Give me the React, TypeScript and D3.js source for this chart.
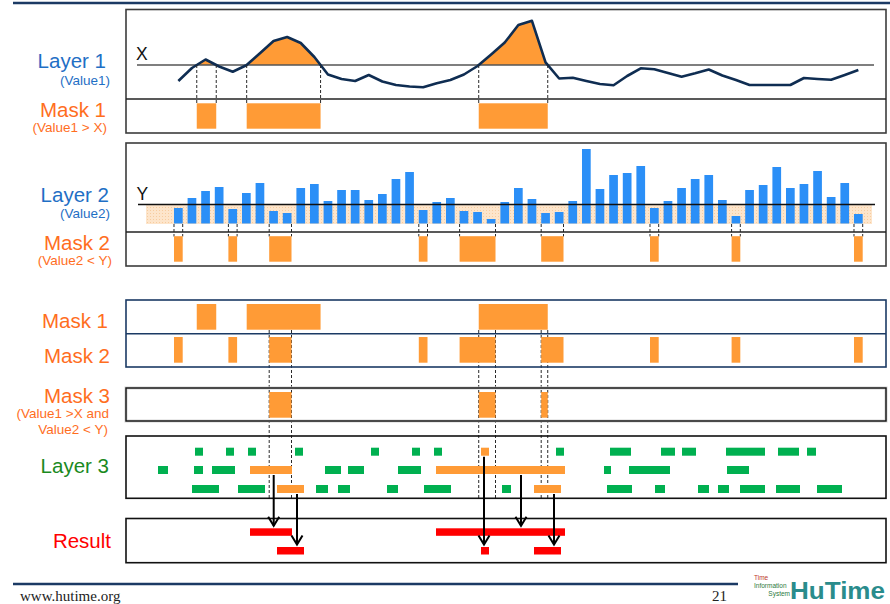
import * as d3 from 'd3';
import React from 'react';

// Layer 1 (line) and Layer 2 (bars) share the same 51 samples
const sampleIndex = d3.range(51);
const value1 = [
  18, 31, 39.5, 32.5, 27.3, 33.7, 45.8, 58, 62, 56, 42, 24.5, 20, 18, 24, 17.5, 14,
  12.5, 11.7, 15.8, 19, 24.5, 33, 44.5, 56.5, 74, 78.2, 36.6, 20.5, 21.3, 18, 15, 13.7,
  23, 30.7, 29.7, 26, 22.3, 25.7, 29.5, 23.5, 19, 14, 14, 14, 14, 21, 20, 19.3, 24, 29,
];
const value2 = [
  15.5, 25.5, 32.5, 36.5, 14.5, 30.5, 40.5, 12.5, 10.5, 35.5,
  39.5, 22.5, 33.5, 33.5, 23.5, 29.5, 44.5, 51.5, 13.5, 21.5,
  25.5, 12.5, 11.5, 4.5, 21.5, 35.5, 24.5, 10.5, 11.5, 22.5,
  74.5, 34.5, 48.5, 50.5, 57.5, 15.5, 22.5, 35.5, 44.5, 48.5,
  23.5, 7.5, 33.5, 38.5, 56.5, 35.5, 39.5, 52.5, 26.5, 40.5,
  9.5,
];
const thresholdX = 34;
const thresholdY = 19;

// Layer 3 events: [start, end] on the time axis, three rows
const layer3Row1: [number, number][] = [
  [69, 77], [100, 108], [122, 130], [169, 177], [245, 253], [286, 294], [308, 316], [355, 363],
  [430, 438], [484, 505], [535, 549], [556, 570], [600, 639], [652, 673], [681, 690],
];
const layer3Row2: [number, number][] = [
  [32, 42], [68, 77], [86, 109], [124, 166], [199, 215], [222, 238], [272, 295], [310, 439],
  [478, 485], [503, 544], [601, 623],
];
const layer3Row3: [number, number][] = [
  [66, 93], [112, 139], [151, 178], [190, 202], [212, 224], [261, 272], [298, 325], [376, 385],
  [408, 435], [481, 506], [529, 539], [572, 583], [592, 603], [614, 639], [650, 674], [691, 716],
];
// where the arrow leaves each selected event (sorted by start)
const resultArrowTimes = [147.7, 171, 395, 358, 428];

const timeDomain: [number, number] = [0, 760];

const C = {
  navy: '#1b3a64',
  frame: '#3c3c3c',
  orange: '#ff9b36',
  orangeText: '#ff6e1e',
  blueText: '#1f6fc5',
  bar: '#2b8ff7',
  green: '#00b050',
  greenText: '#1a8a1e',
  red: '#ff0000',
  line: '#0f2d52',
};
const FONT = '"Liberation Sans", Arial, sans-serif';
const SERIF = '"Liberation Serif", "Times New Roman", serif';

type Span = [number, number];

const App: React.FC = () => {
  const xT = d3.scaleLinear().domain(timeDomain).range([126, 886]);
  const xS = d3.scalePoint<number>().domain(sampleIndex).range([178.35, 858.35]);
  const bw = xS.step() * 0.64;
  const y1 = d3.scaleLinear().domain([0, 90]).range([99, 9]);
  const y2 = d3.scaleLinear().domain([0, 80]).range([223.5, 143.5]);
  const px = (i: number) => xS(i) as number;
  const yX = y1(thresholdX);
  const yY = y2(thresholdY);

  // mask 1: where value1 > X (interpolated crossings)
  const mask1: Span[] = [];
  let start: number | null = value1[0] > thresholdX ? px(0) : null;
  for (let i = 1; i < value1.length; i++) {
    const a = value1[i - 1] > thresholdX;
    const b = value1[i] > thresholdX;
    if (a !== b) {
      const t = (thresholdX - value1[i - 1]) / (value1[i] - value1[i - 1]);
      const xc = px(i - 1) + t * (px(i) - px(i - 1));
      if (b) start = xc;
      else {
        mask1.push([start as number, xc]);
        start = null;
      }
    }
  }
  if (start !== null) mask1.push([start, px(value1.length - 1)]);

  // mask 2: runs of bars with value2 < Y
  const mask2: Span[] = [];
  let run: number | null = null;
  value2.forEach((v, i) => {
    if (v < thresholdY) {
      if (run === null) run = i;
      if (i === value2.length - 1 || value2[i + 1] >= thresholdY) {
        mask2.push([px(run) - bw / 2, px(i) + bw / 2]);
        run = null;
      }
    }
  });

  // mask 3: intersection
  const mask3: Span[] = [];
  mask1.forEach((a) =>
    mask2.forEach((b) => {
      const s = Math.max(a[0], b[0]);
      const e = Math.min(a[1], b[1]);
      if (e > s) mask3.push([s, e]);
    }),
  );

  const rowTops = [447.7, 466, 485];
  const evH = 8;
  const events = [layer3Row1, layer3Row2, layer3Row3].flatMap((row, r) =>
    row.map(([s, e]) => {
      const x0 = xT(s);
      const x1 = xT(e);
      const hit = mask3.some((m) => x0 < m[1] && x1 > m[0]);
      return { x0, x1, row: r, hit };
    }),
  );

  // result: selected events packed into lanes
  const selected = events.filter((d) => d.hit).sort((a, b) => a.x0 - b.x0);
  const laneEnds: number[] = [];
  const results = selected.map((d, k) => {
    let lane = laneEnds.findIndex((end) => end <= d.x0);
    if (lane < 0) {
      lane = laneEnds.length;
      laneEnds.push(d.x1);
    } else laneEnds[lane] = d.x1;
    return { ...d, lane, ax: xT(resultArrowTimes[k]) };
  });
  const laneTops = [528.3, 547];
  const laneH = 7.5;

  const line = d3
    .line<number>()
    .x((_, i) => px(i))
    .y((d) => y1(d));
  const area = d3
    .area<number>()
    .x((_, i) => px(i))
    .y0(yX)
    .y1((d) => y1(d));

  const label = (
    text: string,
    x: number,
    y: number,
    color: string,
    size: number,
  ) => (
    <text key={text + y} x={x} y={y} fill={color} fontSize={size} textAnchor="end" fontFamily={FONT}>
      {text}
    </text>
  );

  const dash = (x: number, ya: number, yb: number, key: string) => (
    <line key={key} x1={x} x2={x} y1={ya} y2={yb} stroke="#2a2a2a" strokeWidth={1} strokeDasharray="3,2" />
  );

  return (
    <div style={{ position: 'absolute', left: 0, top: 0 }}>
      <svg width={890} height={604} style={{ display: 'block', background: '#fff' }}>
        <defs>
          <clipPath id="above-x">
            <rect x={126} y={9} width={760} height={yX - 9} />
          </clipPath>
          <pattern id="dots" width={3} height={3} patternUnits="userSpaceOnUse">
            <rect width={3} height={3} fill="#fde5cb" />
            <rect width={1} height={1} fill="#f7cc9f" />
          </pattern>
        </defs>

        <line x1={13} x2={890} y1={3} y2={3} stroke={C.navy} strokeWidth={2.5} />

        {/* Layer 1 / Mask 1 */}
        <path d={area(value1) as string} fill={C.orange} clipPath="url(#above-x)" />
        <line x1={137} x2={874} y1={yX} y2={yX} stroke="#555" strokeWidth={1.5} />
        <path d={line(value1) as string} fill="none" stroke={C.line} strokeWidth={2.6} strokeLinejoin="round" />
        <text x={136} y={59.5} fontSize={17.5} fontFamily={FONT} fill="#111">X</text>
        {mask1.map((m, i) => (
          <g key={'m1' + i}>
            {dash(m[0], yX, 103, 'a')}
            {dash(m[1], yX, 103, 'b')}
            <rect x={m[0]} width={m[1] - m[0]} y={103.3} height={25.4} fill={C.orange} />
          </g>
        ))}
        <rect x={126} y={9.5} width={760} height={123.5} fill="none" stroke={C.frame} strokeWidth={1.6} />
        <line x1={126} x2={886} y1={99} y2={99} stroke="#222" strokeWidth={1.4} />

        {/* Layer 2 / Mask 2 */}
        <rect x={146} y={yY} width={726} height={y2(0) + 0.5 - yY} fill="url(#dots)" />
        {value2.map((v, i) => (
          <rect key={'b' + i} x={px(i) - bw / 2} width={bw} y={y2(v)} height={y2(0) - y2(v)} fill={C.bar} />
        ))}
        <line x1={138} x2={875} y1={yY} y2={yY} stroke="#111" strokeWidth={1.5} />
        <text x={136.5} y={199.5} fontSize={17.5} fontFamily={FONT} fill="#111">Y</text>
        {mask2.map((m, i) => (
          <g key={'m2' + i}>
            {dash(m[0], 224, 236.5, 'a')}
            {dash(m[1], 224, 236.5, 'b')}
            <rect x={m[0]} width={m[1] - m[0]} y={236.2} height={25.5} fill={C.orange} />
          </g>
        ))}
        <rect x={126} y={143} width={760} height={123} fill="none" stroke={C.frame} strokeWidth={1.6} />
        <line x1={126} x2={886} y1={232} y2={232} stroke="#222" strokeWidth={1.4} />

        {/* Mask 1 + Mask 2 combined */}
        {mask3.map((m, i) => (
          <g key={'d3' + i}>
            {dash(m[0], 330, 498, 'a')}
            {dash(m[1], 330, 498, 'b')}
          </g>
        ))}
        {mask1.map((m, i) => (
          <rect key={'p1' + i} x={m[0]} width={m[1] - m[0]} y={304} height={25.7} fill={C.orange} />
        ))}
        {mask2.map((m, i) => (
          <rect key={'p2' + i} x={m[0]} width={m[1] - m[0]} y={337} height={25.7} fill={C.orange} />
        ))}
        <rect x={126} y={300} width={760} height={67} fill="none" stroke={C.navy} strokeWidth={1.6} />
        <line x1={126} x2={886} y1={333.7} y2={333.7} stroke={C.navy} strokeWidth={1.6} />

        {/* Mask 3 */}
        {mask3.map((m, i) => (
          <rect key={'p3' + i} x={m[0]} width={m[1] - m[0]} y={392} height={25.7} fill={C.orange} />
        ))}
        <rect x={126} y={388} width={760} height={33} fill="none" stroke="#d4d4d4" strokeWidth={3} />
        <rect x={126} y={388} width={760} height={33} fill="none" stroke="#111" strokeWidth={1.4} />

        {/* Layer 3 */}
        {events.map((d, i) => (
          <rect
            key={'e' + i}
            x={d.x0}
            width={d.x1 - d.x0}
            y={rowTops[d.row]}
            height={evH}
            fill={d.hit ? C.orange : C.green}
          />
        ))}
        <rect x={126} y={436} width={760} height={62.3} fill="none" stroke="#111" strokeWidth={1.6} />

        {/* Result */}
        {results.map((d, i) => (
          <rect key={'r' + i} x={d.x0} width={d.x1 - d.x0} y={laneTops[d.lane]} height={laneH} fill={C.red} />
        ))}
        <rect x={126} y={518.5} width={760} height={44.2} fill="none" stroke="#111" strokeWidth={1.6} />
        {results.map((d, i) => {
          const ys = rowTops[d.row] + evH + 1;
          const tip = laneTops[d.lane] - 2.5;
          return (
            <g key={'a' + i} stroke="#000" strokeWidth={2} fill="none">
              <line x1={d.ax} x2={d.ax} y1={ys} y2={tip} />
              <path d={`M${d.ax - 5.5},${tip - 9}L${d.ax},${tip}L${d.ax + 5.5},${tip - 9}`} />
            </g>
          );
        })}

        {/* row labels */}
        {label('Layer 1', 106, 68, C.blueText, 20.5)}
        {label('(Value1)', 110, 84.5, C.blueText, 13.5)}
        {label('Mask 1', 106, 117, C.orangeText, 20.5)}
        {label('(Value1 > X)', 107, 132, C.orangeText, 13.5)}
        {label('Layer 2', 109, 201.5, C.blueText, 20.5)}
        {label('(Value2)', 110, 218, C.blueText, 13.5)}
        {label('Mask 2', 110, 249.5, C.orangeText, 20.5)}
        {label('(Value2 < Y)', 112, 265, C.orangeText, 13.5)}
        {label('Mask 1', 108, 327.5, C.orangeText, 20.5)}
        {label('Mask 2', 110, 363, C.orangeText, 20.5)}
        {label('Mask 3', 110, 403, C.orangeText, 20.5)}
        {label('(Value1 >X and', 109, 417.5, C.orangeText, 13.5)}
        {label('Value2 < Y)', 108, 433.5, C.orangeText, 13.5)}
        {label('Layer 3', 109, 473, C.greenText, 20.5)}
        {label('Result', 111, 548, C.red, 20.5)}

        {/* footer */}
        <line x1={13} x2={738} y1={584} y2={584} stroke={C.navy} strokeWidth={2.5} />
        <text x={20} y={601} fontSize={15} fontFamily={SERIF} fill="#222">
          www.hutime.org
        </text>
        <text x={712} y={601} fontSize={15} fontFamily={SERIF} fill="#222">
          21
        </text>
        <text x={754} y={580} fontSize={6.5} fontFamily={FONT} fill="#c0392b">Time</text>
        <text x={754} y={588} fontSize={6.5} fontFamily={FONT} fill="#2c7a3c">Information</text>
        <text x={790} y={596} fontSize={6.5} fontFamily={FONT} fill="#2c7a3c" textAnchor="end">System</text>
        <text
          x={790}
          y={598.5}
          fontSize={23.5}
          fontWeight="bold"
          fontFamily={FONT}
          fill="#2a8c8c"
          textLength={95}
          lengthAdjust="spacingAndGlyphs"
        >
          HuTime
        </text>
      </svg>
    </div>
  );
};

export default App;
